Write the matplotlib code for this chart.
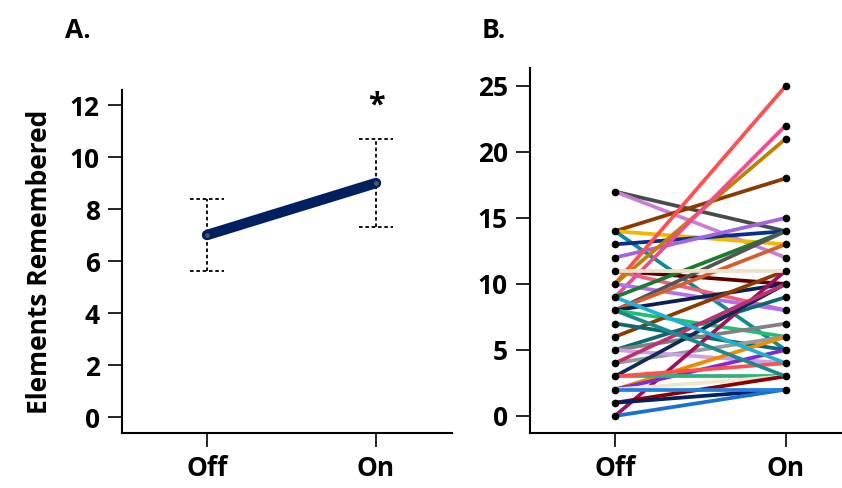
import matplotlib
matplotlib.use("Agg")
import matplotlib.pyplot as plt

plt.rcParams['font.family'] = ['Open Sans', 'DejaVu Sans']
plt.rcParams['font.weight'] = 'bold'

# Panel A data
conditions = ["Off", "On"]
mean_vals = [7.0, 9.0]
err_low = [5.6, 7.3]
err_high = [8.4, 10.7]
a_yticks = [0, 2, 4, 6, 8, 10, 12]

# Panel B data: per-participant Off / On values and colours
off_vals = [17, 17, 14, 14, 14, 13, 12, 11, 11, 10, 10, 9, 10, 9, 8, 8, 8, 8, 6, 7,
            5, 5, 4, 5, 0, 3, 2, 2, 3, 2, 1, 1, 0, 2, 3, 4, 8, 11, 9]
on_vals = [14, 12, 18, 13, 5, 14, 15, 10, 8, 25, 21, 22, 8, 14, 14, 13, 10, 6, 11, 5,
           9, 7, 6, 4, 11, 10, 6, 5, 3, 3, 3, 2, 2, 2, 4, 10, 3, 11, 4]
line_colors = ["#4a4a4a", "#c77fd6", "#8b3a00", "#f0b800", "#0e8a94", "#0a2e8a", "#a066e0",
               "#5a0000", "#f06080", "#ff5050", "#c08000", "#f04a90", "#b070f0", "#1a7a2e",
               "#555555", "#d06030", "#0a2050", "#20c070", "#8b3a00", "#0b6a70", "#0b6a70",
               "#808080", "#999999", "#d0a0e0", "#a0105a", "#102a5a", "#f08a00", "#7b2fd0",
               "#30b080", "#f0e6d0", "#8b0000", "#002060", "#1a70d0", "#2080e0", "#ff5050",
               "#c03070", "#1a8a90", "#f0e0c8", "#20b0d0"]
b_yticks = [0, 5, 10, 15, 20, 25]

fig = plt.figure(figsize=(8.42, 4.88), dpi=100)

# ---------- Panel A ----------
axA = fig.add_axes([0.1449, 0.1127, 0.392, 0.703])
xs = [0, 1]
axA.plot(xs, mean_vals, color="#002060", linewidth=7.5, solid_capstyle='round', zorder=3)
axA.plot(xs, mean_vals, 'o', color="#555555", markersize=2.5, zorder=4)
for x, lo, hi in zip(xs, err_low, err_high):
    axA.vlines(x, lo, hi, colors='black', linestyles=(0, (2, 1.5)), linewidth=1.3, zorder=2)
    axA.hlines([lo, hi], x - 0.1, x + 0.1, colors='black', linestyles=(0, (2, 1.5)), linewidth=1.3, zorder=2)
axA.text(1, 11.4, "*", ha='center', va='bottom', fontsize=22, fontweight='bold')
axA.set_xlim(-0.503, 1.45)
axA.set_ylim(-0.615, 12.58)
axA.set_yticks(a_yticks)
axA.set_xticks(xs)
axA.set_xticklabels(conditions)
axA.set_ylabel("Elements Remembered", fontsize=19, fontweight='bold', labelpad=12)

# ---------- Panel B ----------
axB = fig.add_axes([0.6295, 0.1127, 0.3705, 0.748])
for o, n, c in zip(off_vals, on_vals, line_colors):
    axB.plot([0, 1], [o, n], color=c, linewidth=2.7, solid_capstyle='butt', zorder=2)
all_off = sorted(set(off_vals))
all_on = sorted(set(on_vals))
axB.plot([0] * len(all_off), all_off, 'o', color='black', markersize=4.5, zorder=3)
axB.plot([1] * len(all_on), all_on, 'o', color='black', markersize=4.5, zorder=3)
axB.set_xlim(-0.497, 1.33)
axB.set_ylim(-1.29, 26.36)
axB.set_yticks(b_yticks)
axB.set_xticks([0, 1])
axB.set_xticklabels(conditions)

for ax in (axA, axB):
    for s in ('top', 'right'):
        ax.spines[s].set_visible(False)
    for s in ('left', 'bottom'):
        ax.spines[s].set_linewidth(1.5)
    ax.tick_params(axis='both', direction='out', length=10, width=1.2, labelsize=19)
    ax.tick_params(axis='x', pad=6)
    ax.tick_params(axis='y', pad=6)
    for lab in ax.get_xticklabels() + ax.get_yticklabels():
        lab.set_fontweight('bold')

fig.text(65 / 842, 1 - 30 / 488, "A.", fontsize=19, fontweight='bold', va='center', ha='left')
fig.text(482 / 842, 1 - 30 / 488, "B.", fontsize=19, fontweight='bold', va='center', ha='left')

fig.savefig("out.png", dpi=100)
